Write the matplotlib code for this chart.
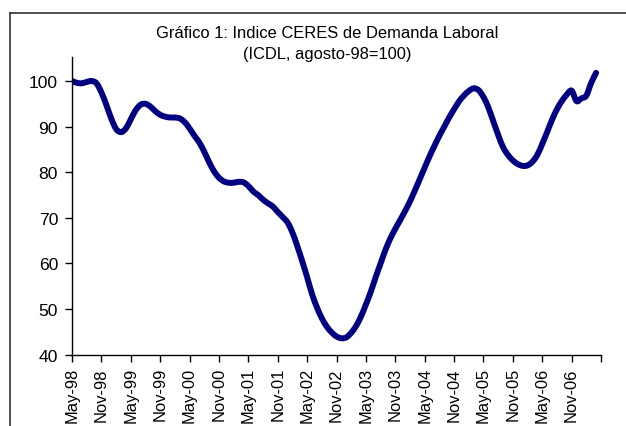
import matplotlib
matplotlib.use("Agg")
import matplotlib.pyplot as plt
from matplotlib.lines import Line2D
from matplotlib.path import Path
from matplotlib.patches import PathPatch

plt.rcParams['font.family'] = ['Liberation Sans', 'DejaVu Sans']

title = "Gráfico 1: Indice CERES de Demanda Laboral\n(ICDL, agosto-98=100)"

# Monthly index values, May-98 .. Apr-07
icdl = [
    100.0, 99.6, 99.5, 99.8, 100.0, 99.5, 97.5, 94.8, 91.8, 89.5,
    88.8, 89.6, 91.6, 93.6, 94.8, 95.0, 94.4, 93.4, 92.6, 92.2,
    92.0, 92.0, 91.8, 91.0, 89.6, 88.0, 86.5, 84.5, 82.2, 80.2,
    78.8, 78.0, 77.7, 77.7, 77.9, 77.8, 77.0, 75.8, 75.0, 74.0,
    73.2, 72.5, 71.3, 70.2, 69.0, 66.8, 63.8, 60.5, 57.0, 53.3,
    50.4, 48.0, 46.2, 44.9, 44.0, 43.6, 43.8, 44.8, 46.3, 48.4,
    51.0, 53.8, 57.0, 60.0, 63.0, 65.5, 67.6, 69.5, 71.5, 73.6,
    76.0, 78.5, 81.0, 83.5, 85.8, 88.0, 90.0, 92.0, 93.8, 95.5,
    96.8, 97.8, 98.4, 98.0, 96.5, 94.2, 91.2, 88.2, 85.5, 83.8,
    82.6, 81.8, 81.4, 81.5, 82.3, 83.8, 86.2, 88.8, 91.5, 93.8,
    95.6, 97.0, 97.9, 95.6, 96.2, 96.8, 99.6, 101.8,
]

tick_labels = ["May-98", "Nov-98", "May-99", "Nov-99", "May-00", "Nov-00",
               "May-01", "Nov-01", "May-02", "Nov-02", "May-03", "Nov-03",
               "May-04", "Nov-04", "May-05", "Nov-05", "May-06", "Nov-06", ""]

yticks = [40, 50, 60, 70, 80, 90, 100]

fig = plt.figure(figsize=(6.26, 4.27), dpi=100)
ax = fig.add_axes([72/626, 1-355.7/427, (601-72)/626, (355.7-58.3)/427])

# Smoothed line through the data points (cubic Bezier, like a spreadsheet "smoothed line")
x = list(range(len(icdl)))
pts = list(zip(x, icdl))
verts = [pts[0]]
codes = [Path.MOVETO]
n = len(pts)
for i in range(n - 1):
    p0 = pts[i - 1] if i > 0 else pts[i]
    p1 = pts[i]
    p2 = pts[i + 1]
    p3 = pts[i + 2] if i + 2 < n else pts[i + 1]
    c1 = (p1[0] + (p2[0] - p0[0]) / 6.0, p1[1] + (p2[1] - p0[1]) / 6.0)
    c2 = (p2[0] - (p3[0] - p1[0]) / 6.0, p2[1] - (p3[1] - p1[1]) / 6.0)
    verts += [c1, c2, p2]
    codes += [Path.CURVE4, Path.CURVE4, Path.CURVE4]
ax.add_patch(PathPatch(Path(verts, codes), facecolor='none', edgecolor='#000080',
                       linewidth=4.3, capstyle='round', joinstyle='round'))

ax.set_xlim(0, 108)
ax.set_ylim(40, 105.2)
ax.set_xticks([6*i for i in range(len(tick_labels))])
ax.set_xticklabels(tick_labels, rotation=90, fontsize=11.9)
ax.set_yticks(yticks)
ax.set_yticklabels([str(v) for v in yticks], fontsize=12.6)
ax.tick_params(axis='both', direction='out', length=5, width=1, color='black')
ax.tick_params(axis='y', pad=5)
ax.tick_params(axis='x', pad=4)
for s in ['top', 'right']:
    ax.spines[s].set_visible(False)
for s in ['left', 'bottom']:
    ax.spines[s].set_linewidth(1.0)
    ax.spines[s].set_color('black')

fig.text(327/626, 1-44/427, title, ha='center', va='center', fontsize=11.9,
         linespacing=1.5)

# outer chart frame (top and left edges visible)
fig.add_artist(Line2D([10/626, 1.0], [1-13.5/427, 1-13.5/427],
                      transform=fig.transFigure, color='#333333', linewidth=1.2))
fig.add_artist(Line2D([10/626, 10/626], [0.0, 1-13.5/427],
                      transform=fig.transFigure, color='#333333', linewidth=1.2))

fig.savefig("out.png", dpi=100)
